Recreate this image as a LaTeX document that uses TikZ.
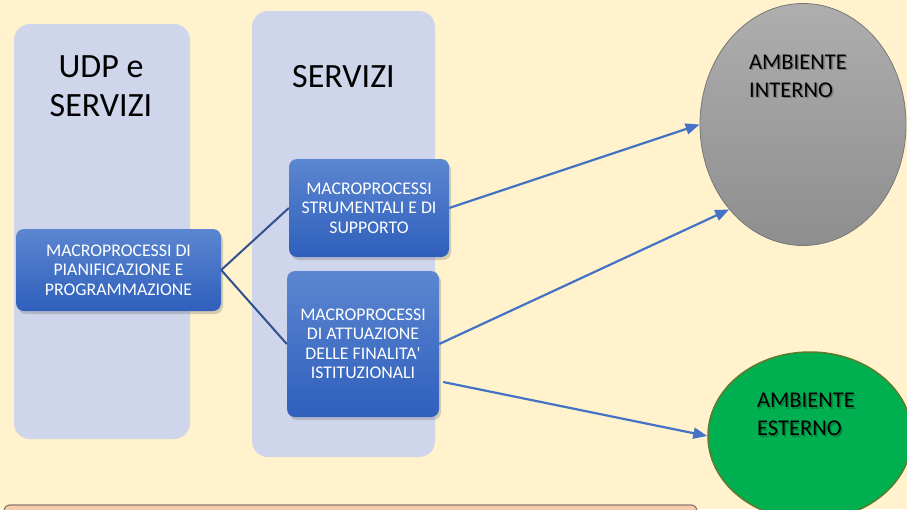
\documentclass[tikz,border=0pt]{standalone}
\usepackage{fontspec}
\setmainfont{Carlito}[Ligatures=TeXOff]
\usetikzlibrary{arrows.meta,shapes.geometric,shadows}

\definecolor{bgcream}{HTML}{FFF2CC}
\definecolor{panelblue}{HTML}{CFD5EA}
\definecolor{boxtop}{HTML}{5B86D0}
\definecolor{boxbottom}{HTML}{2F5FBC}
\definecolor{linkblue}{HTML}{2F528F}
\definecolor{arrowblue}{HTML}{4472C4}
\definecolor{greytop}{HTML}{AEAEAE}
\definecolor{greybottom}{HTML}{8E8E8E}
\definecolor{greyedge}{HTML}{777777}
\definecolor{envgreen}{HTML}{00B050}
\definecolor{greenedge}{HTML}{5F7A2C}
\definecolor{salmon}{HTML}{F8CBAD}
\definecolor{salmonedge}{HTML}{8C7B6B}

\tikzset{
  panel/.style={fill=panelblue, rounded corners=16pt, inner sep=0pt},
  title/.style={font=\fontsize{34}{39}\selectfont, align=center, inner sep=0pt},
  procbox/.style={rounded corners=8pt, top color=boxtop, bottom color=boxbottom,
    draw=none, text=white, align=center, inner sep=0pt,
    font=\fontsize{17.8}{19.5}\selectfont,
    drop shadow={shadow xshift=2pt, shadow yshift=-3pt, opacity=0.35}},
  link/.style={draw=linkblue, line width=2pt},
  flow/.style={draw=arrowblue, line width=2.2pt,
    -{Triangle[length=14pt,width=11pt]}},
  envlabel/.style={font=\fontsize{22.5}{28}\selectfont, align=left,
    inner sep=0pt, anchor=west},
  envshadow/.style={envlabel, text=black, opacity=0.25},
}

\begin{document}
\begin{tikzpicture}[x=1pt,y=-1pt]
\useasboundingbox (0,0) rectangle (907,509);
\fill[bgcream] (0,0) rectangle (907,509);

% column panels
\node[panel, minimum width=176pt, minimum height=415pt] (colA) at (102,231.5) {};
\node[panel, minimum width=183pt, minimum height=446pt] (colB) at (343.5,234) {};

% column titles
\node[title] (titleA) at (101,86) {UDP e\\SERVIZI};
\node[title] (titleB) at (343.5,76.5) {SERVIZI};

% process boxes
\node[procbox, minimum width=205pt, minimum height=82pt] (plan) at (118.5,270)
  {MACROPROCESSI DI\\PIANIFICAZIONE E\\PROGRAMMAZIONE};
\node[procbox, minimum width=160pt, minimum height=98pt] (supp) at (369,208)
  {MACROPROCESSI\\STRUMENTALI E DI\\SUPPORTO};
\node[procbox, minimum width=152pt, minimum height=146pt] (inst) at (363,344)
  {MACROPROCESSI\\DI ATTUAZIONE\\DELLE FINALITA'\\ISTITUZIONALI};

% environments
\node[ellipse, minimum width=206pt, minimum height=242pt, inner sep=0pt,
  top color=greytop, bottom color=greybottom, draw=greyedge, line width=0.8pt]
  (intenv) at (803,124.5) {};
\node[envshadow] (intshadow) at (750.5,77.5) {AMBIENTE\\INTERNO};
\node[envlabel] (intlabel) at (749,76) {AMBIENTE\\INTERNO};

\node[ellipse, minimum width=204pt, minimum height=168pt, inner sep=0pt,
  fill=envgreen, draw=greenedge, line width=1.5pt]
  (extenv) at (810,436) {};
\node[envshadow] (extshadow) at (758.5,416) {AMBIENTE\\ESTERNO};
\node[envlabel] (extlabel) at (757,414.5) {AMBIENTE\\ESTERNO};

% bottom bar
\node[fill=salmon, draw=salmonedge, line width=1.2pt, rounded corners=6pt,
  minimum width=693pt, minimum height=30pt, inner sep=0pt] (bar) at (350.5,520) {};

% links between processes
\draw[link] (plan.east) -- (supp.west);
\draw[link] (plan.east) -- (inst.west);

% flows towards the environments
\draw[flow] (supp.east) -- (intenv.west);
\draw[flow] (inst.east) -- (intenv.229);
\draw[flow] ([xshift=4pt,yshift=-38pt]inst.east) -- (extenv.west);
\end{tikzpicture}
\end{document}
